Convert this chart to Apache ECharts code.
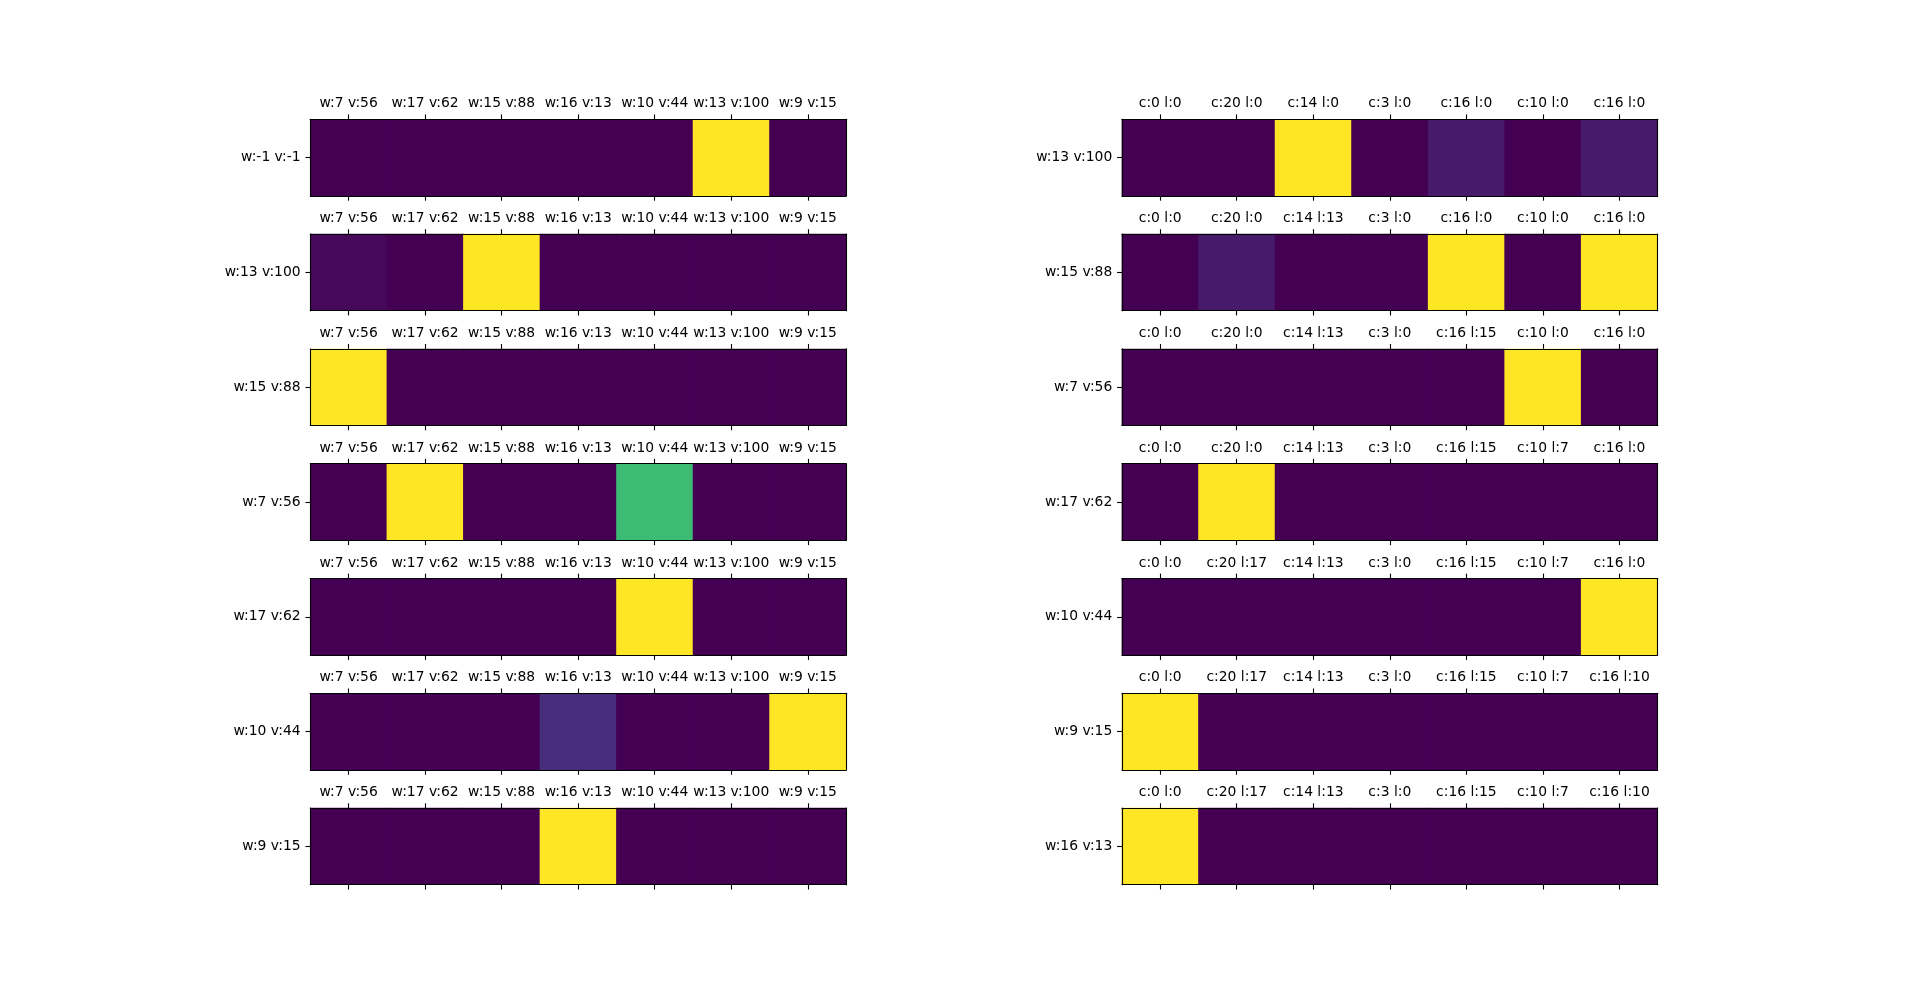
<!DOCTYPE html>
<html>
<head>
<meta charset="utf-8">
<script src="https://cdn.jsdelivr.net/npm/echarts@6/dist/echarts.min.js"></script>
<style>
html,body{margin:0;padding:0;background:#fff;}
#chart{width:1920px;height:994px;}
</style>
</head>
<body>
<div id="chart"></div>
<script>
// ---- data ----
const leftRowLabels = ["w:-1 v:-1", "w:13 v:100", "w:15 v:88", "w:7 v:56", "w:17 v:62", "w:10 v:44", "w:9 v:15"];
const leftColLabels = ["w:7 v:56", "w:17 v:62", "w:15 v:88", "w:16 v:13", "w:10 v:44", "w:13 v:100", "w:9 v:15"];
const leftValues = [
  [0, 0, 0, 0, 0, 1, 0],
  [0.02, 0, 1, 0, 0, 0, 0],
  [1, 0, 0, 0, 0, 0, 0],
  [0, 1, 0, 0, 0.68, 0, 0],
  [0, 0, 0, 0, 1, 0, 0],
  [0, 0, 0, 0.13, 0, 0, 1],
  [0, 0, 0, 1, 0, 0, 0]
];
const rightRowLabels = ["w:13 v:100", "w:15 v:88", "w:7 v:56", "w:17 v:62", "w:10 v:44", "w:9 v:15", "w:16 v:13"];
const rightColLabels = [
  ["c:0 l:0", "c:20 l:0", "c:14 l:0", "c:3 l:0", "c:16 l:0", "c:10 l:0", "c:16 l:0"],
  ["c:0 l:0", "c:20 l:0", "c:14 l:13", "c:3 l:0", "c:16 l:0", "c:10 l:0", "c:16 l:0"],
  ["c:0 l:0", "c:20 l:0", "c:14 l:13", "c:3 l:0", "c:16 l:15", "c:10 l:0", "c:16 l:0"],
  ["c:0 l:0", "c:20 l:0", "c:14 l:13", "c:3 l:0", "c:16 l:15", "c:10 l:7", "c:16 l:0"],
  ["c:0 l:0", "c:20 l:17", "c:14 l:13", "c:3 l:0", "c:16 l:15", "c:10 l:7", "c:16 l:0"],
  ["c:0 l:0", "c:20 l:17", "c:14 l:13", "c:3 l:0", "c:16 l:15", "c:10 l:7", "c:16 l:10"],
  ["c:0 l:0", "c:20 l:17", "c:14 l:13", "c:3 l:0", "c:16 l:15", "c:10 l:7", "c:16 l:10"]
];
const rightValues = [
  [0, 0, 1, 0, 0.07, 0, 0.07],
  [0, 0.07, 0, 0, 1, 0, 1],
  [0, 0, 0, 0, 0, 1, 0],
  [0, 1, 0, 0, 0, 0, 0],
  [0, 0, 0, 0, 0, 0, 1],
  [1, 0, 0, 0, 0, 0, 0],
  [1, 0, 0, 0, 0, 0, 0]
];
const viridis = ["#440154","#471365","#482475","#463480","#414487","#3b528b","#355f8d","#2f6c8e","#2a788e","#25848e","#21918c","#1e9c89","#22a884","#2fb47c","#44bf70","#5ec962","#7ad151","#9bd93c","#bddf26","#dfe318","#fde725"];

// ---- layout (matplotlib-like subplot geometry) ----
const FW = 1920, FH = 994;
const figL = 0.125 * FW, figR = 0.9 * FW, figT = 0.12 * FH, figB = 0.89 * FH;
const wspace = 0.2, hspace = 0.5, nR = 7, nC = 2;
const slotW = (figR - figL) / (nC + (nC - 1) * wspace);
const slotH = (figB - figT) / (nR + (nR - 1) * hspace);
const panelH = slotH, panelW = 7 * slotH;

const FONT = 'DejaVu Sans';
const FS = 13.89;
const TICK = 4.86;
const LW = 1.11;

const grids = [], xAxes = [], yAxes = [], series = [];
function addPanel(r, c, rowLabel, colLabels, vals) {
  const gi = grids.length;
  const slotLeft = figL + c * slotW * (1 + wspace);
  const left = slotLeft + (slotW - panelW) / 2;
  const top = figT + r * slotH * (1 + hspace);
  grids.push({left: left, top: top, width: panelW, height: panelH, containLabel: false,
    show: true, backgroundColor: viridis[0], borderWidth: 0});
  const lineStyle = {color: '#000', width: LW};
  xAxes.push({
    type: 'category', gridIndex: gi, position: 'top', data: colLabels, z: 10,
    axisLine: {show: true, lineStyle: lineStyle},
    axisTick: {show: true, alignWithLabel: true, length: TICK, lineStyle: lineStyle},
    axisLabel: {show: true, interval: 0, color: '#000', fontFamily: FONT, fontSize: FS, margin: 8.5},
    splitLine: {show: false}
  });
  xAxes.push({
    type: 'category', gridIndex: gi, position: 'bottom', data: colLabels, z: 10,
    axisLine: {show: true, lineStyle: lineStyle},
    axisTick: {show: true, alignWithLabel: true, length: TICK, lineStyle: lineStyle},
    axisLabel: {show: false}, splitLine: {show: false}
  });
  yAxes.push({
    type: 'category', gridIndex: gi, position: 'left', data: [rowLabel], z: 10,
    axisLine: {show: true, lineStyle: lineStyle},
    axisTick: {show: true, alignWithLabel: true, length: TICK, lineStyle: lineStyle},
    axisLabel: {show: true, color: '#000', fontFamily: FONT, fontSize: FS, margin: TICK + 4.86,
      padding: [3, 0, 0, 0]},
    splitLine: {show: false}
  });
  yAxes.push({
    type: 'category', gridIndex: gi, position: 'right', data: [rowLabel], z: 10,
    axisLine: {show: true, lineStyle: lineStyle},
    axisTick: {show: false}, axisLabel: {show: false}, splitLine: {show: false}
  });
  series.push({
    type: 'heatmap', xAxisIndex: 2 * gi, yAxisIndex: 2 * gi,
    data: vals.map((v, i) => [i, 0, v]),
    itemStyle: {borderWidth: 0},
    emphasis: {disabled: true}
  });
}
for (let r = 0; r < 7; r++) addPanel(r, 0, leftRowLabels[r], leftColLabels, leftValues[r]);
for (let r = 0; r < 7; r++) addPanel(r, 1, rightRowLabels[r], rightColLabels[r], rightValues[r]);

const chart = echarts.init(document.getElementById('chart'), null, {renderer: 'canvas'});
chart.setOption({
  animation: false,
  backgroundColor: '#fff',
  grid: grids, xAxis: xAxes, yAxis: yAxes,
  visualMap: {type: 'continuous', show: false, min: 0, max: 1, dimension: 2,
    seriesIndex: series.map((s, i) => i), inRange: {color: viridis}},
  series: series
});
</script>
</body>
</html>
